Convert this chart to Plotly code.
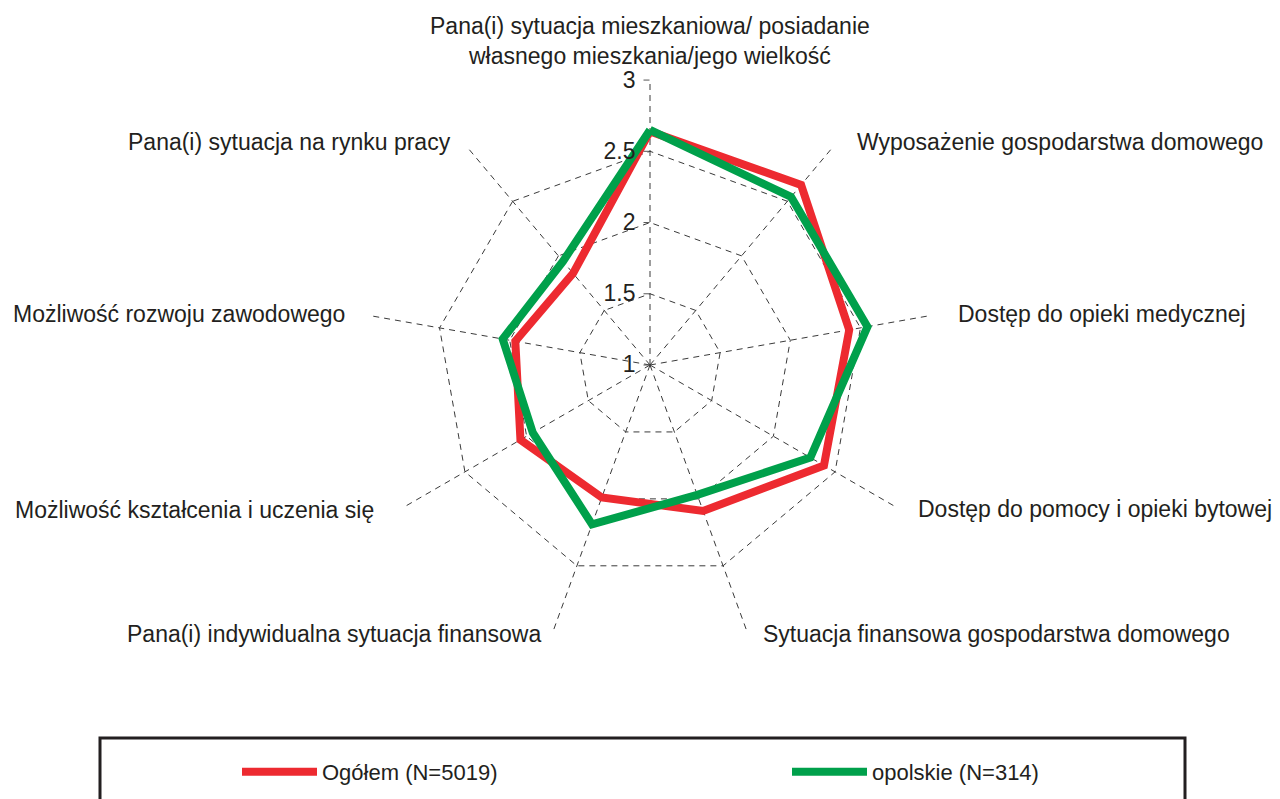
import math
import plotly.graph_objects as go

categories = [
    "Pana(i) sytuacja mieszkaniowa/ posiadanie<br>własnego mieszkania/jego wielkość",
    "Wyposażenie gospodarstwa domowego",
    "Dostęp do opieki medycznej",
    "Dostęp do pomocy i opieki bytowej",
    "Sytuacja finansowa gospodarstwa domowego",
    "Pana(i) indywidualna sytuacja finansowa",
    "Możliwość kształcenia i uczenia się",
    "Możliwość rozwoju zawodowego",
    "Pana(i) sytuacja na rynku pracy",
]
ogolem = [2.64, 2.65, 2.42, 2.41, 2.09, 1.99, 2.05, 1.96, 1.84]
opolskie = [2.65, 2.54, 2.55, 2.30, 1.97, 2.19, 1.95, 2.05, 1.95]
series_names = ["Ogółem (N=5019)", "opolskie (N=314)"]
radial_ticks = [1, 1.5, 2, 2.5, 3]

# page body has an 8px margin -> work in figure pixel coordinates
OFF = 8
W, H = 1280 - OFF, 799 - OFF
cx, cy, R = 650 - OFF, 365 - OFF, 285

fig = go.Figure()
fig.add_trace(go.Scatterpolar(
    r=ogolem + ogolem[:1], theta=categories + categories[:1],
    mode="lines", name=series_names[0], legend="legend",
    line=dict(color="#ED2A30", width=8),
))
fig.add_trace(go.Scatterpolar(
    r=opolskie + opolskie[:1], theta=categories + categories[:1],
    mode="lines", name=series_names[1], legend="legend2",
    line=dict(color="#00A04B", width=8),
))

# category labels placed beside the outer vertices (Excel style)
label_gap = [9, 22, 25, 19, 14, 10, 27, 22, 14]
label_dy = [0, -5, -2, 2, 1, 1, 2, -2, -5]
annotations = []
n = len(categories)
for i, txt in enumerate(categories):
    a = 2 * math.pi * i / n
    vx = cx + R * math.sin(a)
    vy = cy - R * math.cos(a)
    if i == 0:
        px, py, xa, ya = vx, vy - label_gap[i], "center", "bottom"
    else:
        s = 1 if math.sin(a) > 0 else -1
        px, py = vx + s * label_gap[i], vy + label_dy[i]
        xa, ya = ("left" if s > 0 else "right"), "middle"
    annotations.append(dict(
        text=txt, x=px / W, y=(H - py) / H, xref="paper", yref="paper",
        xanchor=xa, yanchor=ya, showarrow=False, align="center",
        font=dict(size=23, color="#231F20"),
    ))

font = "Liberation Sans, Arial, sans-serif"
legend_common = dict(
    orientation="h", yanchor="middle", xanchor="left", y=(H - (772 - OFF)) / H,
    itemwidth=75, font=dict(size=22, color="#231F20"), bgcolor="rgba(0,0,0,0)",
)
fig.update_layout(
    width=W, height=H,
    margin=dict(l=0, r=0, t=0, b=0),
    paper_bgcolor="white", plot_bgcolor="white",
    font=dict(family=font, size=23, color="#231F20"),
    polar=dict(
        domain=dict(x=[(cx - R) / W, (cx + R) / W],
                    y=[(H - cy - R) / H, (H - cy + R) / H]),
        bgcolor="white",
        gridshape="linear",
        radialaxis=dict(
            range=[1, 3.0005], tickvals=radial_ticks,
            ticktext=[str(v) for v in radial_ticks],
            angle=90, tickangle=90, side="counterclockwise",
            showline=False, ticks="outside", ticklen=6, tickcolor="#555",
            showgrid=True, gridcolor="#3a3a3a", griddash="6px,5px", gridwidth=1,
            tickfont=dict(size=23, color="#231F20"),
        ),
        angularaxis=dict(
            rotation=90, direction="clockwise",
            showline=False, ticks="", showticklabels=False,
            showgrid=True, gridcolor="#3a3a3a", griddash="6px,5px", gridwidth=1,
        ),
    ),
    showlegend=True,
    legend=dict(x=(237 - OFF) / W, **legend_common),
    legend2=dict(x=(787 - OFF) / W, **legend_common),
    annotations=annotations,
    shapes=[dict(type="rect", xref="paper", yref="paper",
                 x0=(100 - OFF) / W, x1=(1185 - OFF) / W, y0=-0.05, y1=(H - (738 - OFF)) / H,
                 line=dict(color="#231F20", width=3))],
)

fig.write_html("out.html")
